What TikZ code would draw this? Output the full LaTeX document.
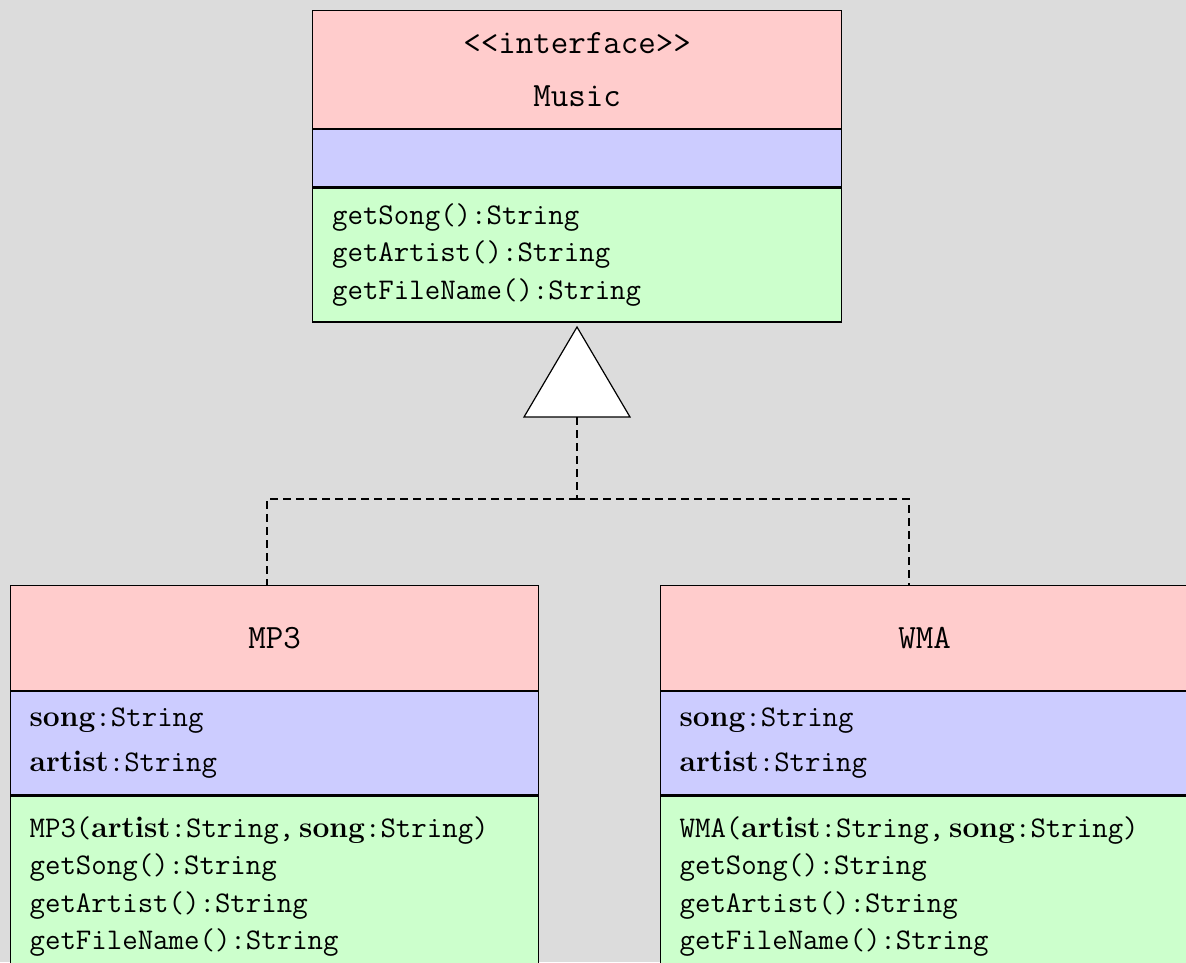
\documentclass[tikz,border=0pt]{standalone}
\usepackage{tikz}
\usetikzlibrary{positioning}

\definecolor{headred}{HTML}{FFCCCC}
\definecolor{attrblue}{HTML}{CCCCFF}
\definecolor{opgreen}{HTML}{CCFFCC}
\definecolor{bggray}{HTML}{DCDCDC}

\newcommand{\bt}[1]{{\rmfamily\bfseries #1}}

\tikzset{
  box/.style={draw, line width=1.2pt, anchor=north west, inner ysep=0pt,
    inner xsep=19pt, text width=490pt, minimum width=528pt},
  headbox/.style={box, fill=headred, align=center,
    font=\ttfamily\fontsize{34}{40}\selectfont},
  attrbox/.style={box, fill=attrblue, align=left,
    font=\ttfamily\fontsize{30}{37.5}\selectfont},
  opbox/.style={box, fill=opgreen, align=left,
    font=\ttfamily\fontsize{30}{37.5}\selectfont},
  realize/.style={line width=1.5pt, dash pattern=on 8pt off 5pt}
}

\begin{document}
\begin{tikzpicture}[x=1pt, y=-1pt]
\useasboundingbox (0,0) rectangle (1186,962);
\clip (0,0) rectangle (1186,962);
\fill[bggray] (0,0) rectangle (1186,962);
%
\node[headbox, minimum width=529pt, minimum height=118pt](musicHead) at (312,10)
  {\textless\textless interface\textgreater\textgreater\\[13pt]Music};
\node[attrbox, minimum width=529pt, minimum height=57pt](musicAttr) at (musicHead.south west) {};
\node[opbox, minimum width=529pt, minimum height=134pt](musicOps) at (musicAttr.south west)
  {getSong():String\\getArtist():String\\getFileName():String};
%
\node[headbox, minimum height=105pt](mpHead) at (10,585) {MP3};
\node[attrbox, minimum height=103pt](mpAttr) at (mpHead.south west)
  {\bt{song}:String\\[8pt]\bt{artist}:String};
\node[opbox, minimum height=181pt](mpOps) at (mpAttr.south west)
  {MP3(\bt{artist}:String,\,\bt{song}:String)\\getSong():String\\getArtist():String\\getFileName():String};
%
\node[headbox, minimum height=105pt](wmaHead) at (660,585) {WMA};
\node[attrbox, minimum height=103pt](wmaAttr) at (wmaHead.south west)
  {\bt{song}:String\\[8pt]\bt{artist}:String};
\node[opbox, minimum height=181pt](wmaOps) at (wmaAttr.south west)
  {WMA(\bt{artist}:String,\,\bt{song}:String)\\getSong():String\\getArtist():String\\getFileName():String};
%
\coordinate(triTop) at (577,327);
\coordinate(triLeft) at (524,417);
\coordinate(triRight) at (630,417);
\coordinate(triBase) at (577,417);
\coordinate(fork) at (577,499);
\coordinate(mpLink) at (267,585);
\coordinate(wmaLink) at (909,585);
%
\draw[line width=1.2pt, fill=white](triTop) -- (triLeft) -- (triRight) -- cycle;
\draw[realize](triBase) -- (fork);
\draw[realize](fork) -| (mpLink);
\draw[realize](fork) -| (wmaLink);
\end{tikzpicture}
\end{document}
